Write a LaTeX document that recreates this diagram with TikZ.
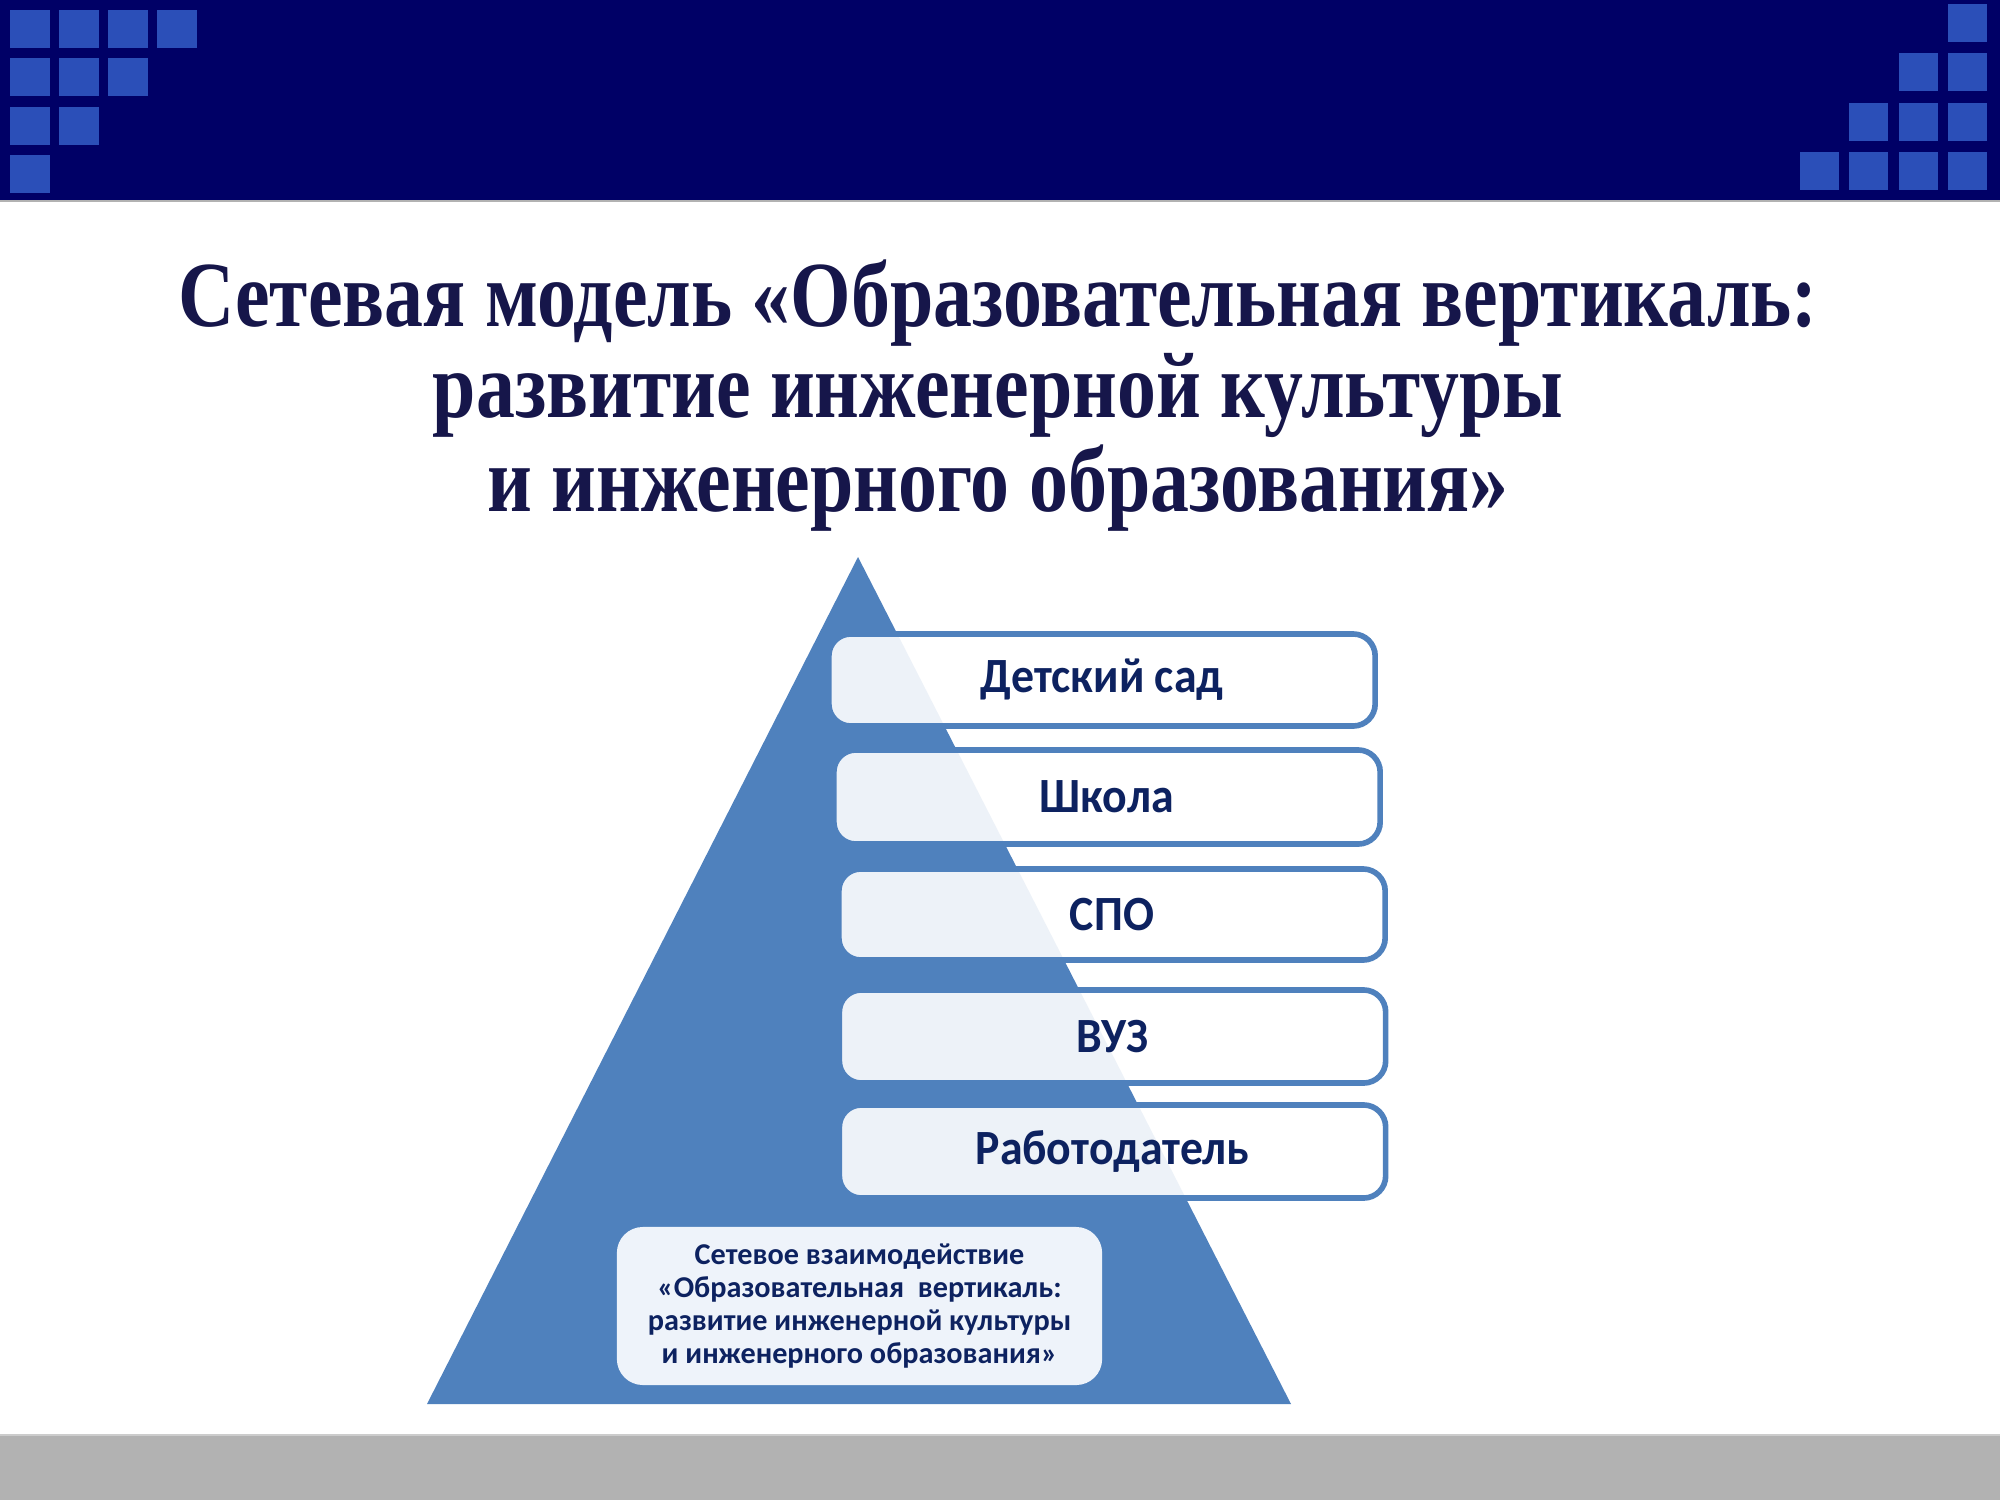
\documentclass[tikz,border=0pt]{standalone}
\usepackage{graphicx}
\usepackage{fontspec}
\setmainfont{Liberation Serif}
\newfontfamily\boxfont{Carlito}
\definecolor{hdr}{HTML}{000066}
\definecolor{sq}{HTML}{2B4FB8}
\definecolor{tri}{HTML}{4F81BD}
\definecolor{ttl}{HTML}{16164A}
\definecolor{txt}{HTML}{0D2260}
\definecolor{light}{HTML}{EEF3FA}
\definecolor{band}{HTML}{B2B2B2}
\newcommand{\ttlline}[1]{\scalebox{0.835}[1]{#1}}
\newcommand{\lvltext}[1]{\scalebox{0.93}[1]{#1}}
\tikzset{
  level/.style={draw=tri, line width=1.6pt, fill=white, fill opacity=0.9, text opacity=1,
    rounded corners=0.22cm, inner sep=0pt, minimum width=5.46cm, minimum height=0.92cm,
    font=\boxfont\bfseries\fontsize{14}{17}\selectfont, text=txt},
  titletext/.style={font=\bfseries\fontsize{26.5}{30}\selectfont, text=ttl},
}
\begin{document}
\begin{tikzpicture}[x=0.01cm,y=-0.01cm]
\useasboundingbox (0,0) rectangle (2000,1500);
\fill[white] (0,0) rectangle (2000,1500);
% header
\fill[hdr] (0,0) rectangle (2000,201);
\draw[gray!60, line width=0.6pt] (0,201) -- (2000,201);
% left squares
\foreach \c/\r in {0/0,1/0,2/0,3/0,0/1,1/1,2/1,0/2,1/2,0/3}{
  \pgfmathsetmacro{\xx}{10+49*\c}
  \pgfmathsetmacro{\yy}{10+48.5*\r}
  \fill[sq] (\xx,\yy) rectangle ++(40,38);
}
% right squares
\foreach \c/\r in {3/0,2/1,3/1,1/2,2/2,3/2,0/3,1/3,2/3,3/3}{
  \pgfmathsetmacro{\xx}{1800+49.3*\c}
  \pgfmathsetmacro{\yy}{4+49.3*\r}
  \fill[sq] (\xx,\yy) rectangle ++(39,38);
}
% bottom band
\fill[band] (0,1435) rectangle (2000,1500);
\draw[gray!40, line width=0.6pt] (0,1435) -- (2000,1435);
% title
\node[titletext] (t1) at (998,303) {\ttlline{Сетевая модель «Образовательная вертикаль:}};
\node[titletext] (t2) at (998,395) {\ttlline{развитие инженерной культуры}};
\node[titletext] (t3) at (998,488) {\ttlline{и инженерного образования»}};
% pyramid
\fill[tri] (858,557) -- (1291,1404) -- (427,1404) -- cycle;
% levels
\node[level] (b1) at (1102,680) {\lvltext{Детский сад}};
\node[level, minimum height=0.94cm] (b2) at (1107,797) {\lvltext{Школа}};
\node[level, minimum height=0.91cm] (b3) at (1112,914.5) {\lvltext{СПО}};
\node[level, minimum height=0.93cm] (b4) at (1112.5,1036.5) {\lvltext{ВУЗ}};
\node[level, minimum height=0.93cm] (b5) at (1112.5,1151.5) {\lvltext{Работодатель}};
% base box
\node[fill=light, rounded corners=0.26cm, inner sep=0pt, minimum width=4.85cm, minimum height=1.58cm,
  align=center, text=txt, font=\boxfont\bfseries\fontsize{8.6}{9.4}\selectfont] (base) at (859.5,1306)
  {Сетевое взаимодействие\\«Образовательная\ \ вертикаль:\\развитие инженерной культуры\\и инженерного образования»};
\end{tikzpicture}
\end{document}
